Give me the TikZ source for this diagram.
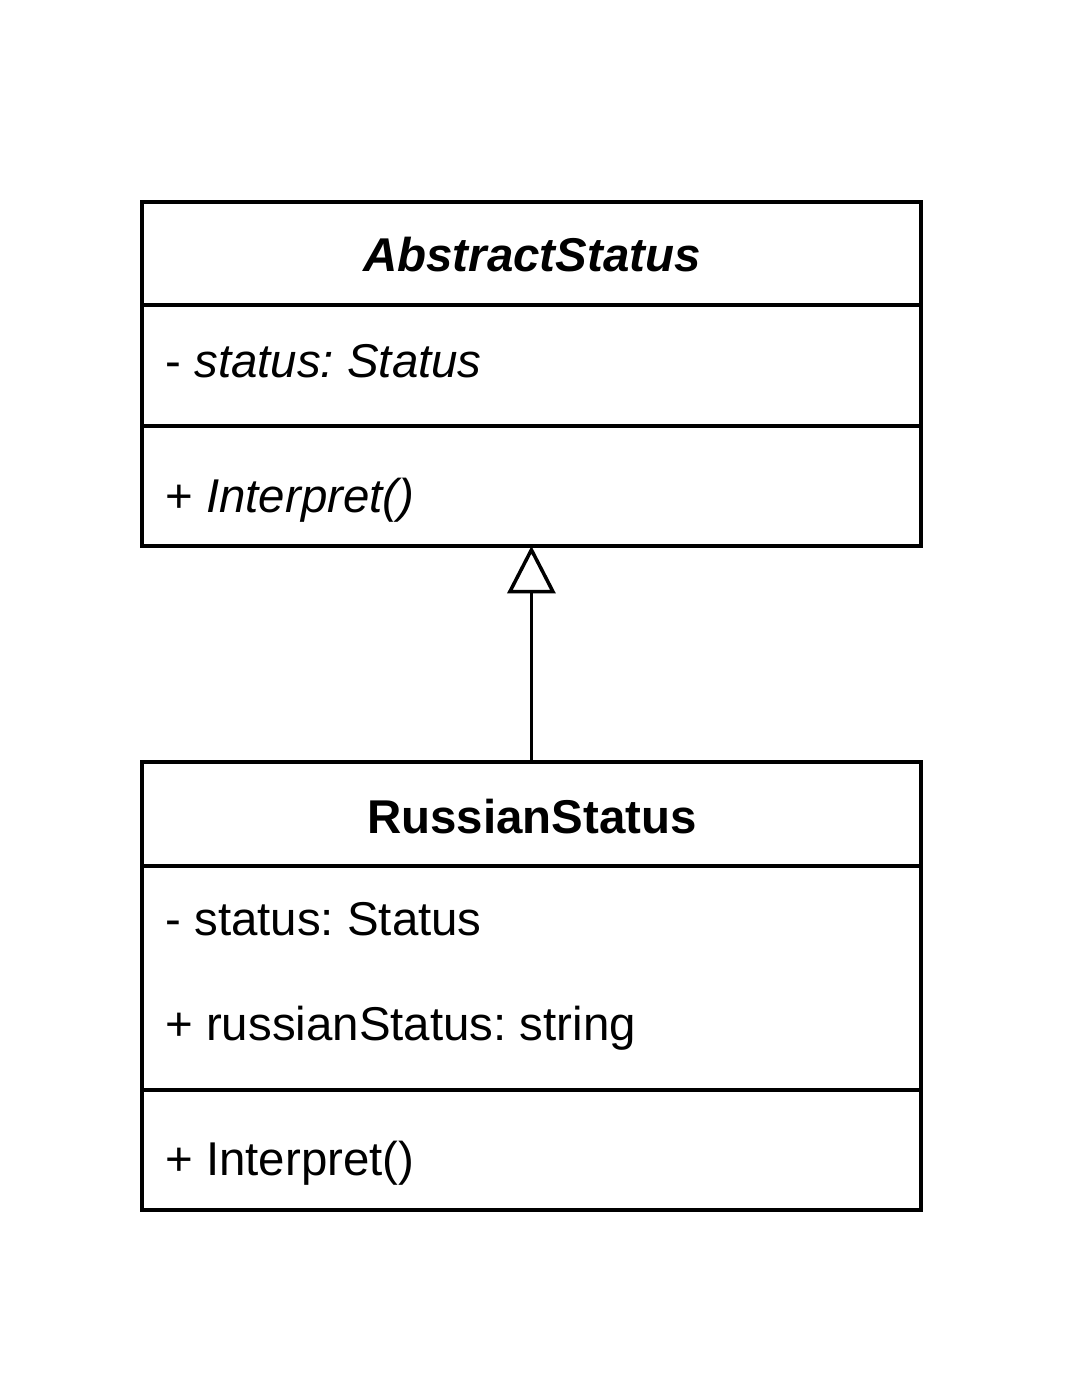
\documentclass[tikz,border=0pt]{standalone}
\usepackage{fontspec}
\setmainfont{Liberation Sans}
\usepackage{tikz}
\usetikzlibrary{arrows.meta,positioning}
\frenchspacing

\begin{document}
\begin{tikzpicture}[
    x=0.02cm, y=-0.02cm,
    every node/.style={font=\fontsize{27}{32}\selectfont},
    box/.style={rectangle, draw, line width=2pt, outer sep=0pt, minimum width=15.58cm},
    member/.style={anchor=base west, inner sep=0pt},
    title/.style={anchor=base, inner sep=0pt, font=\fontsize{27}{32}\selectfont\bfseries},
    inherit/.style={-{Triangle[open, length=0.95cm, width=0.96cm]}, line width=2pt}
]
    \useasboundingbox (0,0) rectangle (1080,1400);

    % AbstractStatus
    \node[box, anchor=north west, minimum height=2.06cm] (absTitle) at (142,202) {};
    \node[box, below=0pt of absTitle, minimum height=2.42cm] (absAttr) {};
    \node[box, below=0pt of absAttr, minimum height=2.40cm] (absOps) {};
    \node[title] (absName) at (532,271) {\itshape AbstractStatus};
    \node[member] (absStatus) at (165,377) {- \itshape status: Status};
    \node[member] (absInterpret) at (165,512) {+ \itshape Interpret()};

    % RussianStatus
    \node[box, anchor=north west, minimum height=2.08cm] (ruTitle) at (142,762) {};
    \node[box, below=0pt of ruTitle, minimum height=4.48cm] (ruAttr) {};
    \node[box, below=0pt of ruAttr, minimum height=2.40cm] (ruOps) {};
    \node[title] (ruName) at (532,833) {RussianStatus};
    \node[member] (ruStatus) at (165,935) {- status: Status};
    \node[member] (ruString) at (165,1040) {+ russianStatus: string};
    \node[member] (ruInterpret) at (165,1175) {+ Interpret()};

    % Generalization
    \draw[inherit] (ruTitle.north) -- (absOps.south);
\end{tikzpicture}
\end{document}
